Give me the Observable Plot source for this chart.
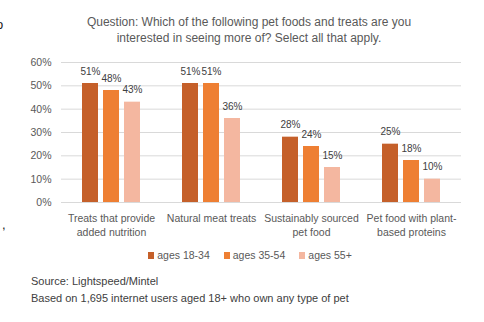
<!DOCTYPE html>
<html>
<head>
<meta charset="utf-8">
<script src="https://cdn.jsdelivr.net/npm/d3@7"></script>
<script src="https://cdn.jsdelivr.net/npm/@observablehq/plot@0.6"></script>
<style>
  html, body { margin: 0; padding: 0; background: #fff; }
  body { width: 484px; height: 322px; overflow: hidden; position: relative; font-family: "Liberation Sans", Arial, sans-serif; }
  #title { position: absolute; left: 0; top: 14px; width: 498px; text-align: center; font-size: 12px; line-height: 16px; color: #595959; }
  #chart { position: absolute; left: 0; top: 52px; }
  #legend { position: absolute; left: 0; top: 249px; width: 500px; display: flex; justify-content: center; gap: 14px; font-size: 10.5px; color: #595959; }
  #legend span.sw { display: inline-block; width: 6px; height: 7px; margin-right: 3px; vertical-align: -0px; }
  #caption { position: absolute; left: 31px; top: 273px; font-size: 11px; line-height: 17px; color: #404040; }
  .stray { position: absolute; font-size: 13px; color: #222; }
</style>
</head>
<body>
<div class="stray" style="left:-4px;top:17px;">o</div>
<div class="stray" style="left:2px;top:217px;">,</div>
<div id="title">Question: Which of the following pet foods and treats are you<br>interested in seeing more of? Select all that apply.</div>
<div id="chart"></div>
<div id="legend"></div>
<div id="caption">Source: Lightspeed/Mintel<br>Based on 1,695 internet users aged 18+ who own any type of pet</div>
<script>
const categories = [
  "Treats that provide added nutrition",
  "Natural meat treats",
  "Sustainably sourced pet food",
  "Pet food with plant-based proteins"
];
const categoryLabels = [
  "Treats that provide\nadded nutrition",
  "Natural meat treats",
  "Sustainably sourced\npet food",
  "Pet food with plant-\nbased proteins"
];
const ages = ["ages 18-34", "ages 35-54", "ages 55+"];
const ages18to34 = [51, 51, 28, 25];
const ages35to54 = [48, 51, 24, 18];
const ages55plus = [43, 36, 15, 10];
const colors = ["#C5602A", "#EE7F33", "#F4B7A0"];
const yTicks = [0, 10, 20, 30, 40, 50, 60];

const series = [ages18to34, ages35to54, ages55plus];
const data = [];
categories.forEach((c, i) => {
  ages.forEach((a, j) => data.push({category: c, age: a, value: series[j][i] / 100}));
});
const labelOf = new Map(categories.map((c, i) => [c, categoryLabels[i]]));

const plot = Plot.plot({
  width: 484,
  height: 192,
  marginTop: 10,
  marginBottom: 42,
  marginLeft: 60,
  marginRight: 22,
  style: {fontFamily: '"Liberation Sans", Arial, sans-serif', color: "#595959", background: "transparent"},
  fx: {domain: categories, padding: 0, label: null, axis: null},
  x: {domain: ages, paddingInner: 0.23, paddingOuter: 0.9, axis: null},
  y: {domain: [0, 0.6], label: null, axis: null},
  color: {domain: ages, range: colors},
  marks: [
    Plot.ruleY(yTicks.map(d => d / 100), {stroke: "#d9d9d9", strokeWidth: 1}),
    Plot.axisY(yTicks.map(d => d / 100), {tickFormat: d => Math.round(d * 100) + "%", tickSize: 0, tickPadding: 10, fontSize: 10.5, fill: "#595959", label: null}),
    Plot.axisFx({anchor: "bottom", tickFormat: d => labelOf.get(d), tickSize: 0, tickPadding: 10, fontSize: 10.5, lineHeight: 1.3, fill: "#595959", label: null}),
    Plot.barY(data, {fx: "category", x: "age", y: "value", fill: "age"}),
    Plot.text(data, {fx: "category", x: "age", y: "value", text: d => Math.round(d.value * 100) + "%", dy: -12, fontSize: 10, fill: "#404040"})
  ]
});
document.getElementById("chart").appendChild(plot);

const legend = document.getElementById("legend");
ages.forEach((a, i) => {
  const item = document.createElement("div");
  const sw = document.createElement("span");
  sw.className = "sw";
  sw.style.background = colors[i];
  item.appendChild(sw);
  item.appendChild(document.createTextNode(a));
  legend.appendChild(item);
});
</script>
</body>
</html>
